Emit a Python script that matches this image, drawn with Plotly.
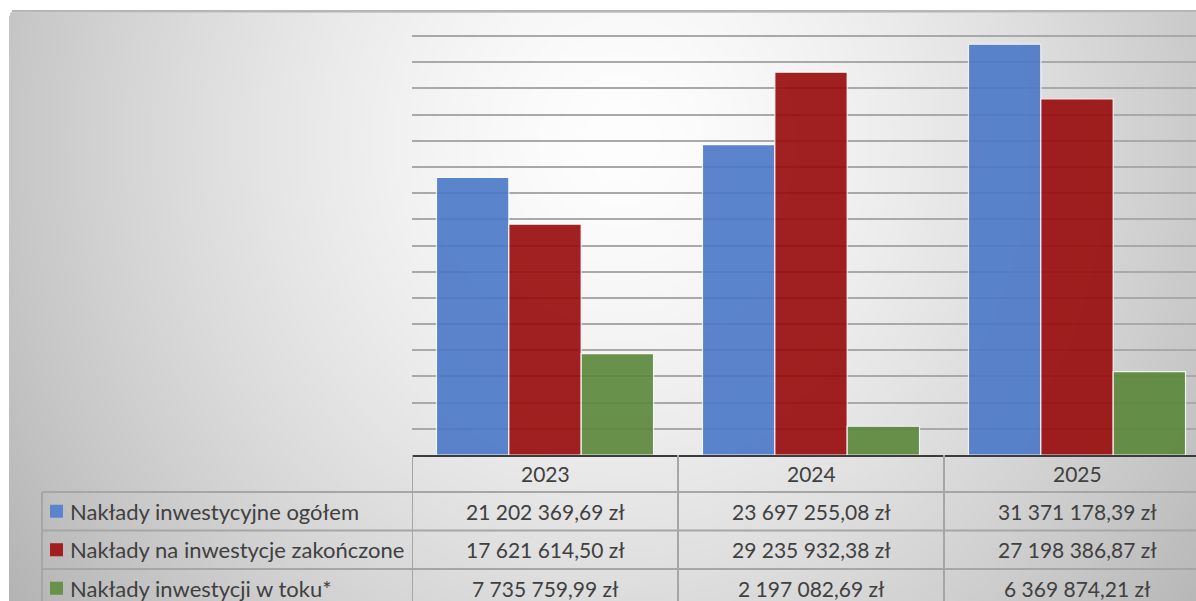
import base64
import struct
import zlib

import numpy as np
import plotly.graph_objects as go

# ---- data -------------------------------------------------------------
years = ["2023", "2024", "2025"]
series_names = [
    "Nakłady inwestycyjne ogółem",
    "Nakłady na inwestycje zakończone",
    "Nakłady inwestycji w toku*",
]
naklady_ogolem = [21202369.69, 23697255.08, 31371178.39]
naklady_zakonczone = [17621614.50, 29235932.38, 27198386.87]
naklady_w_toku = [7735759.99, 2197082.69, 6369874.21]
series_values = [naklady_ogolem, naklady_zakonczone, naklady_w_toku]
series_colors = ["#4A78C8", "#980A0B", "#5A873A"]
legend_colors = ["#5B84CC", "#A21F20", "#68914A"]

# ---- geometry ---------------------------------------------------------
W, H = 1196, 601
ML, MR, MT, MB = 412, 0, 33, 146
PW, PH = W - ML - MR, H - MT - MB
CAT_PX = 266  # width of one category column
Y_TOP = 32e6 * 422 / 419  # keeps the 32 mln gridline a few px inside the plot

TEXT = "#404040"
FONT = "Lato"


def px_x(px):
    return (px - ML) / PW


def px_y(py):
    return (H - MB - py) / PH


def pln(v):
    s = f"{v:,.2f}".replace(",", " ").replace(".", ",")
    return s + " zł"


# ---- soft grey background (radial light) -------------------------------
def background_png():
    yy, xx = np.mgrid[0:H, 0:W].astype(float)
    cx, cy = 620.0, 140.0
    r = np.sqrt(((xx - cx) / 600.0) ** 2 + ((yy - cy) / 640.0) ** 2)
    v = 254.0 - 54.0 * np.clip(r, 0, 1.3) ** 1.45
    img = np.repeat(v[:, :, None], 3, axis=2)
    # area outside the chart frame stays white
    img[:10, :, :] = 255
    img[:, :9, :] = 255
    # rounded top-left corner
    rad = 6
    cyy, cxx = 10 + rad, 9 + rad
    corner = (yy < cyy) & (xx < cxx) & (((yy - cyy) ** 2 + (xx - cxx) ** 2) > rad ** 2)
    img[corner] = 255
    # frame top edge
    img[10:12, 12:, :] = 182
    img[12:13, 12:, :] = 205
    arr = np.clip(img, 0, 255).astype(np.uint8)

    raw = b"".join(b"\x00" + arr[i].tobytes() for i in range(H))

    def chunk(tag, data):
        c = struct.pack(">I", len(data)) + tag + data
        return c + struct.pack(">I", zlib.crc32(tag + data) & 0xFFFFFFFF)

    png = (
        b"\x89PNG\r\n\x1a\n"
        + chunk(b"IHDR", struct.pack(">IIBBBBB", W, H, 8, 2, 0, 0, 0))
        + chunk(b"IDAT", zlib.compress(raw, 9))
        + chunk(b"IEND", b"")
    )
    return "data:image/png;base64," + base64.b64encode(png).decode()


fig = go.Figure()

for name, vals, col in zip(series_names, series_values, series_colors):
    fig.add_trace(
        go.Bar(
            x=years,
            y=vals,
            name=name,
            marker=dict(color=col, line=dict(color="rgba(255,255,255,0.9)", width=1.2)),
            opacity=0.9,
        )
    )

# ---- data table under the plot -----------------------------------------
GRID = "#A6A6A6"
header_top, header_bot = 455, 492
row_edges = [492, 530.5, 569, 607.5]
shapes = []

# horizontal row separators
for py in row_edges[:-1]:
    shapes.append(dict(type="line", xref="paper", yref="paper",
                       x0=px_x(42), x1=1.0, y0=px_y(py), y1=px_y(py),
                       line=dict(color=GRID, width=2)))
# label column left border
shapes.append(dict(type="line", xref="paper", yref="paper",
                   x0=px_x(42), x1=px_x(42), y0=px_y(header_bot), y1=px_y(H + 5),
                   line=dict(color=GRID, width=2)))
# column borders between categories
for k in range(len(years)):
    shapes.append(dict(type="line", xref="x", yref="paper",
                       x0=k - 0.5, x1=k - 0.5, y0=px_y(header_top), y1=px_y(H + 5),
                       line=dict(color=GRID, width=2)))

annotations = []
for k, yr in enumerate(years):
    annotations.append(dict(x=k, y=px_y((header_top + header_bot) / 2), xref="x", yref="paper",
                            text=yr, showarrow=False, xanchor="center", yanchor="middle",
                            font=dict(family=FONT, size=21, color=TEXT)))

for i, (name, vals, lc) in enumerate(zip(series_names, series_values, legend_colors)):
    yc = (row_edges[i] + row_edges[i + 1]) / 2
    shapes.append(dict(type="rect", xref="paper", yref="paper",
                       x0=px_x(50), x1=px_x(63), y0=px_y(yc + 6.5), y1=px_y(yc - 6.5),
                       fillcolor=lc, line=dict(width=0)))
    annotations.append(dict(x=px_x(68), y=px_y(yc), xref="paper", yref="paper",
                            text=name, showarrow=False, xanchor="left", yanchor="middle",
                            font=dict(family=FONT, size=22, color=TEXT)))
    for k, v in enumerate(vals):
        annotations.append(dict(x=k, y=px_y(yc), xref="x", yref="paper",
                                text=pln(v), showarrow=False, xanchor="center",
                                yanchor="middle",
                                font=dict(family=FONT, size=21, color=TEXT)))

fig.update_layout(
    width=W,
    height=H,
    margin=dict(l=ML, r=MR, t=MT, b=MB, pad=0),
    paper_bgcolor="white",
    plot_bgcolor="rgba(0,0,0,0)",
    barmode="group",
    bargap=0.184,
    bargroupgap=0.0,
    showlegend=False,
    shapes=shapes,
    annotations=annotations,
    images=[dict(source=background_png(), xref="paper", yref="paper",
                 x=-ML / PW, y=1 + MT / PH, sizex=W / PW, sizey=H / PH,
                 xanchor="left", yanchor="top", sizing="stretch", layer="below")],
    xaxis=dict(type="category", range=[-0.5, -0.5 + PW / CAT_PX],
               showticklabels=False, ticks="", showgrid=False,
               showline=True, linecolor="#3C3C3C", linewidth=1.5, zeroline=False),
    yaxis=dict(range=[0, Y_TOP], dtick=2e6, showticklabels=False, ticks="",
               showgrid=True, gridcolor="#A9A9A9", gridwidth=1.6,
               zeroline=False, showline=False),
)

fig.write_html("out.html")
